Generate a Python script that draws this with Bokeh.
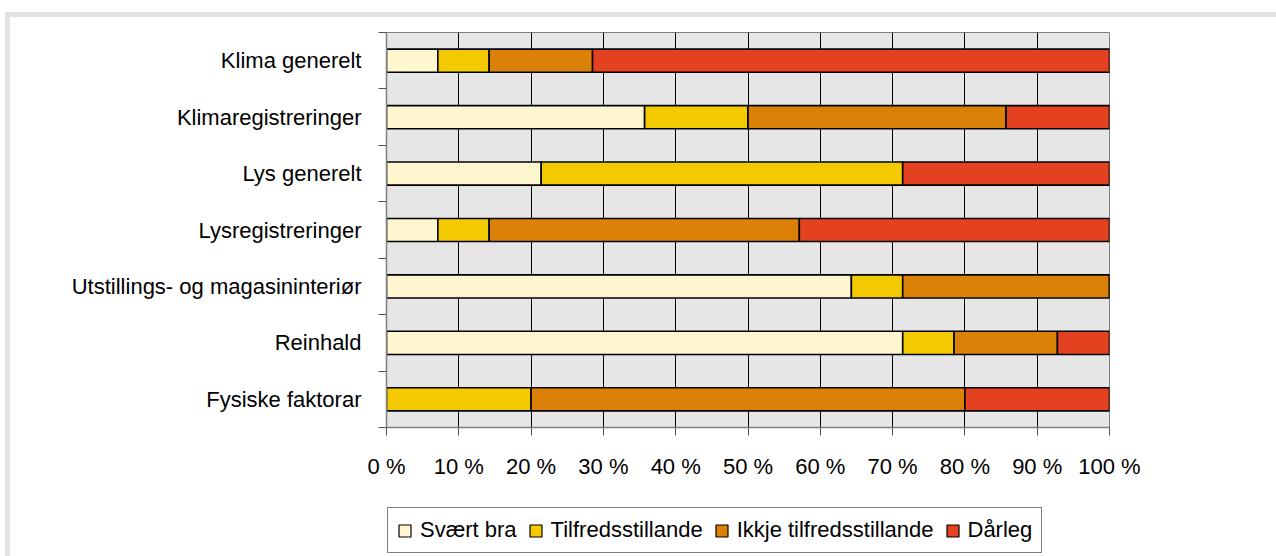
from bokeh.plotting import figure
from bokeh.models import Range1d, FixedTicker, Legend, LegendItem, ColumnDataSource
from bokeh.layouts import column
from bokeh.embed import file_html
from bokeh.resources import INLINE

categories = ["Klima generelt", "Klimaregistreringer", "Lys generelt", "Lysregistreringer",
              "Utstillings- og magasininteriør", "Reinhald", "Fysiske faktorar"]
series_names = ["Svært bra", "Tilfredsstillande", "Ikkje tilfredsstillande", "Dårleg"]
svaert_bra = [7.1, 35.7, 21.4, 7.1, 64.3, 71.4, 0.0]
tilfreds = [7.1, 14.3, 50.0, 7.1, 7.1, 7.1, 20.0]
ikkje_tilfreds = [14.3, 35.7, 0.0, 42.9, 28.6, 14.3, 60.0]
daarleg = [71.5, 14.3, 28.6, 42.9, 0.0, 7.2, 20.0]
x_ticks = [0, 10, 20, 30, 40, 50, 60, 70, 80, 90, 100]
x_tick_labels = ["0 %", "10 %", "20 %", "30 %", "40 %", "50 %", "60 %", "70 %", "80 %", "90 %", "100 %"]
colors = ["#fdf6cf", "#f3c900", "#db8107", "#e3411f"]

n = len(categories)
ypos = [n - i - 0.5 for i in range(n)]
keys = ["s0", "s1", "s2", "s3"]
src = ColumnDataSource(dict(y=ypos, s0=svaert_bra, s1=tilfreds, s2=ikkje_tilfreds, s3=daarleg))

FONT = "Liberation Sans"

p = figure(width=1266, height=470, x_range=Range1d(0, 100), y_range=Range1d(0, n),
           output_backend="svg", toolbar_location=None,
           min_border_left=376, min_border_right=167, min_border_top=15, min_border_bottom=60)
p.background_fill_color = "#e6e6e6"
p.border_fill_color = "white"
p.outline_line_color = "#808080"
p.outline_line_width = 1

rs = p.hbar_stack(keys, y="y", height=0.41, color=colors, line_color="black",
                  line_width=1.6, source=src)

# x axis
p.xaxis.ticker = FixedTicker(ticks=x_ticks)
p.xaxis.major_label_overrides = {t: l for t, l in zip(x_ticks, x_tick_labels)}
p.xaxis.major_tick_in = 0
p.xaxis.major_tick_out = 8
p.xaxis.minor_tick_out = 0
p.xaxis.major_label_standoff = 18
p.xaxis.axis_line_color = "#808080"
p.xaxis.axis_line_width = 1.5
p.xaxis.major_tick_line_color = "#555555"
p.xaxis.major_label_text_font = FONT
p.xaxis.major_label_text_font_size = "22px"
p.xaxis.major_label_text_color = "black"

# y axis
p.yaxis.ticker = FixedTicker(ticks=ypos, minor_ticks=list(range(n + 1)))
p.yaxis.major_label_overrides = {y: c for y, c in zip(ypos, categories)}
p.yaxis.major_tick_out = 0
p.yaxis.major_tick_in = 0
p.yaxis.minor_tick_out = 8
p.yaxis.minor_tick_in = 0
p.yaxis.minor_tick_line_color = "#555555"
p.yaxis.major_label_standoff = 17
p.yaxis.axis_line_color = "#808080"
p.yaxis.axis_line_width = 1.5
p.yaxis.major_label_text_font = FONT
p.yaxis.major_label_text_font_size = "22px"
p.yaxis.major_label_text_color = "black"

p.xgrid.ticker = FixedTicker(ticks=x_ticks)
p.xgrid.grid_line_color = "black"
p.xgrid.grid_line_width = 1
p.ygrid.visible = False

# legend strip (separate figure so the legend is not clipped to the plot frame);
# the same stacked bars are drawn here but kept out of view, only their legend shows
p2 = figure(width=1266, height=69, x_range=Range1d(0, 100), y_range=Range1d(100, 101),
            output_backend="svg", toolbar_location=None,
            x_axis_location=None, y_axis_location=None,
            min_border_left=0, min_border_right=0, min_border_top=0, min_border_bottom=0)
p2.background_fill_color = "white"
p2.border_fill_color = "white"
p2.outline_line_color = None
p2.grid.visible = False
legend_renderers = p2.hbar_stack(keys, y="y", height=0.41, color=colors, line_color="black",
                                 line_width=1.2, source=src)

legend = Legend(items=[LegendItem(label=nm, renderers=[r]) for nm, r in zip(series_names, legend_renderers)],
                orientation="horizontal", location=(1, 3))
legend.label_text_font = FONT
legend.label_text_font_size = "22px"
legend.label_text_color = "black"
legend.glyph_width = 15
legend.glyph_height = 15
legend.label_standoff = 8
legend.spacing = 11
legend.padding = 9
legend.margin = 0
legend.border_line_color = "black"
legend.border_line_width = 1
legend.background_fill_color = "white"
legend.background_fill_alpha = 1
p2.add_layout(legend)

layout = column(p, p2, spacing=0)
layout.styles = {"border-top": "5px solid #e3e3e3", "border-left": "5px solid #e3e3e3",
                 "margin-left": "5px", "margin-top": "12px"}

open("out.html", "w").write(file_html(layout, INLINE))
